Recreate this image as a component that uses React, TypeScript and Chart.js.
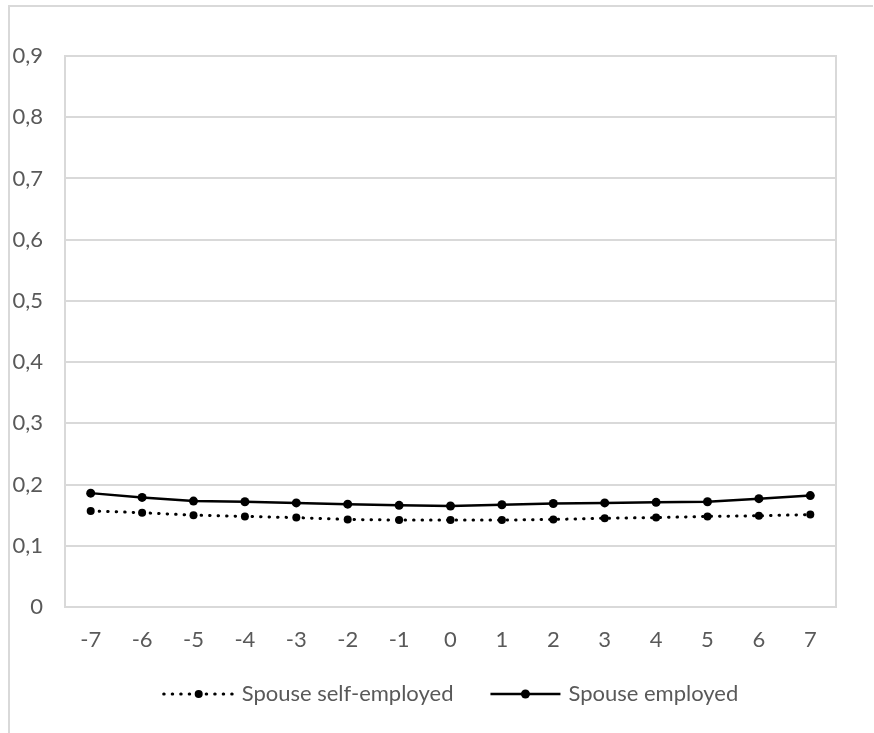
import React, { useEffect, useRef } from "react";
import { Chart, registerables } from "chart.js";

Chart.register(...registerables);

const categories = ["-7", "-6", "-5", "-4", "-3", "-2", "-1", "0", "1", "2", "3", "4", "5", "6", "7"];
const selfEmployed = [0.157, 0.154, 0.150, 0.148, 0.146, 0.143, 0.142, 0.142, 0.142, 0.143, 0.145, 0.146, 0.148, 0.149, 0.151];
const employed = [0.186, 0.179, 0.173, 0.172, 0.170, 0.168, 0.166, 0.165, 0.167, 0.169, 0.170, 0.171, 0.172, 0.177, 0.182];
const seriesNames = ["Spouse self-employed", "Spouse employed"];
const yMin = 0;
const yMax = 0.9;
const yStep = 0.1;

const FONT = "Lato, 'Open Sans', sans-serif";
const TEXT = "#595959";
const GRID = "#d9d9d9";
const DOT_DASH = [0.5, 8];

export default function App() {
  const ref = useRef<HTMLCanvasElement | null>(null);

  useEffect(() => {
    const canvas = ref.current;
    if (!canvas) return;

    const framePlugin = {
      id: "frame",
      beforeDraw(chart: any) {
        const ctx = chart.ctx;
        ctx.save();
        ctx.fillStyle = "#ffffff";
        ctx.fillRect(0, 0, chart.width, chart.height);
        ctx.strokeStyle = GRID;
        ctx.lineWidth = 2;
        ctx.beginPath();
        ctx.moveTo(9, chart.height);
        ctx.lineTo(9, 6);
        ctx.lineTo(873, 6);
        ctx.stroke();
        const a = chart.chartArea;
        ctx.strokeRect(a.left, a.top, a.right - a.left, a.bottom - a.top);
        ctx.restore();
      },
      afterDraw(chart: any) {
        const ctx = chart.ctx;
        ctx.save();
        ctx.font = `22px ${FONT}`;
        const sample = 70;
        const gap = 8;
        const itemGap = 37;
        const widths = seriesNames.map((n) => ctx.measureText(n).width);
        const total = widths.reduce((s, w) => s + sample + gap + w, 0) + itemGap;
        let x = 451 - total / 2;
        const y = 694;
        chart.data.datasets.forEach((ds: any, i: number) => {
          ctx.strokeStyle = "#000";
          ctx.lineWidth = ds.borderWidth;
          ctx.lineCap = ds.borderCapStyle || "butt";
          ctx.setLineDash(ds.borderDash || []);
          ctx.beginPath();
          ctx.moveTo(x, y);
          ctx.lineTo(x + sample, y);
          ctx.stroke();
          ctx.setLineDash([]);
          ctx.fillStyle = "#000";
          ctx.beginPath();
          ctx.arc(x + sample / 2, y, ds.pointRadius, 0, Math.PI * 2);
          ctx.fill();
          ctx.fillStyle = TEXT;
          ctx.textAlign = "left";
          ctx.textBaseline = "middle";
          ctx.fillText(seriesNames[i], x + sample + gap, y);
          x += sample + gap + widths[i] + itemGap;
        });
        ctx.restore();
      },
    };

    const chart = new Chart(canvas, {
      type: "line",
      data: {
        labels: categories,
        datasets: [
          {
            label: seriesNames[0],
            data: selfEmployed,
            borderColor: "#000",
            backgroundColor: "#000",
            borderWidth: 3,
            borderDash: DOT_DASH,
            borderCapStyle: "round",
            pointRadius: 4,
            pointBorderWidth: 0,
            pointBackgroundColor: "#000",
            tension: 0,
          },
          {
            label: seriesNames[1],
            data: employed,
            borderColor: "#000",
            backgroundColor: "#000",
            borderWidth: 2.5,
            pointRadius: 4.5,
            pointBorderWidth: 0,
            pointBackgroundColor: "#000",
            tension: 0,
          },
        ],
      },
      options: {
        responsive: false,
        animation: false,
        layout: { padding: { left: 0, top: 56, right: 38, bottom: 76 } },
        plugins: {
          legend: { display: false },
          tooltip: { enabled: false },
        },
        scales: {
          x: {
            offset: true,
            grid: { display: false, drawTicks: false },
            border: { display: false },
            ticks: {
              color: TEXT,
              font: { family: FONT, size: 22 },
              padding: 20,
              maxRotation: 0,
              autoSkip: false,
            },
            afterFit(scale: any) {
              scale.height = 50;
            },
          },
          y: {
            min: yMin,
            max: yMax,
            grid: { color: GRID, lineWidth: 2, drawTicks: false },
            border: { display: false },
            ticks: {
              stepSize: yStep,
              color: TEXT,
              font: { family: FONT, size: 22 },
              padding: 22,
              callback: (v: any) => {
                const n = Number(v);
                return n === 0 ? "0" : n.toFixed(1).replace(".", ",");
              },
            },
            afterFit(scale: any) {
              scale.width = 65;
            },
          },
        },
      },
      plugins: [framePlugin],
    } as any);

    return () => chart.destroy();
  }, []);

  return (
    <div style={{ position: "fixed", left: 0, top: 0, width: 874, height: 733, background: "#fff" }}>
      <canvas ref={ref} width={874} height={733} style={{ display: "block" }} />
    </div>
  );
}
